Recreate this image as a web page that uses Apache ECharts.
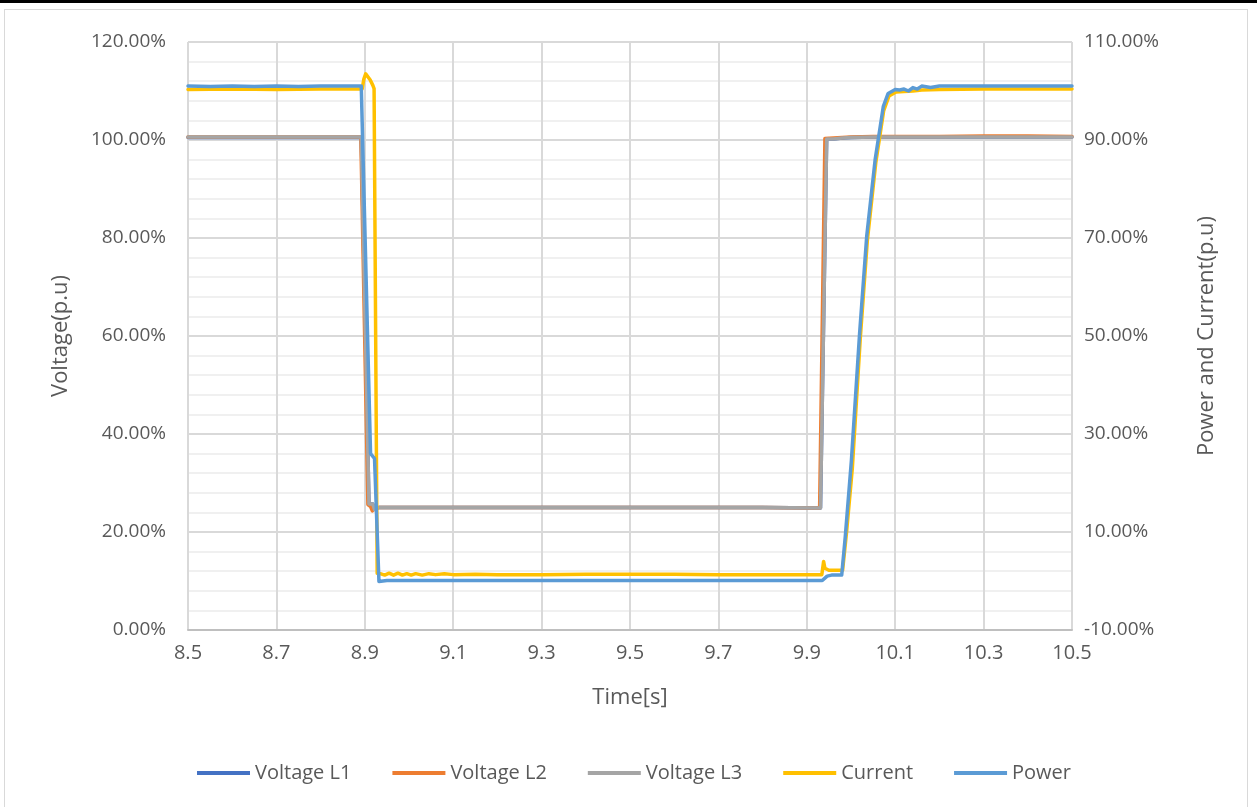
<!DOCTYPE html>
<html>
<head>
<meta charset="utf-8">
<script src="https://cdn.jsdelivr.net/npm/echarts@6/dist/echarts.min.js"></script>
<style>
html,body{margin:0;padding:0;background:#fff;}
#wrap{position:relative;width:1257px;height:807px;overflow:hidden;background:#fff;}
#chart{position:absolute;left:0;top:0;width:1257px;height:807px;}
#topbar{position:absolute;left:0;top:0;width:1257px;height:3px;background:#000;}
#frame{position:absolute;left:4px;top:9px;width:1244px;height:810px;border:1px solid #d9d9d9;box-sizing:border-box;pointer-events:none;}
</style>
</head>
<body>
<div id="wrap">
<div id="chart"></div>
<div id="frame"></div>
<div id="topbar"></div>
</div>
<script>
// ---- data (percent values) ----
const seriesNames = ['Voltage L1', 'Voltage L2', 'Voltage L3', 'Current', 'Power'];
const xTicks = ['8.5', '8.7', '8.9', '9.1', '9.3', '9.5', '9.7', '9.9', '10.1', '10.3', '10.5'];

const timeL13 = [8.5, 8.6, 8.7, 8.8, 8.892, 8.9095, 8.918, 8.922, 8.926, 8.932, 9.0, 9.2, 9.4, 9.6, 9.8, 9.931, 9.945, 9.96, 9.98, 10.0, 10.05, 10.1, 10.2, 10.3, 10.4, 10.5];
const voltL1 = [100.5, 100.5, 100.5, 100.5, 100.5, 25.7, 25.7, 24.6, 24.9, 25.0, 25.0, 25.0, 25.0, 25.0, 25.0, 24.9, 100.2, 100.2, 100.4, 100.5, 100.6, 100.6, 100.6, 100.6, 100.6, 100.6];
const voltL3 = [100.6, 100.6, 100.6, 100.6, 100.6, 25.7, 25.7, 24.6, 24.9, 25.0, 25.0, 25.0, 25.0, 25.0, 25.0, 24.9, 100.2, 100.2, 100.4, 100.5, 100.6, 100.6, 100.6, 100.6, 100.6, 100.6];

const timeL2 = [8.5, 8.6, 8.7, 8.8, 8.891, 8.907, 8.913, 8.917, 8.921, 8.928, 9.0, 9.2, 9.4, 9.6, 9.8, 9.929, 9.941, 9.96, 9.98, 10.0, 10.05, 10.1, 10.2, 10.3, 10.4, 10.5];
const voltL2 = [100.6, 100.6, 100.6, 100.6, 100.6, 25.6, 25.2, 24.3, 24.8, 25.0, 25.0, 25.0, 25.0, 25.0, 25.0, 24.9, 100.3, 100.4, 100.5, 100.6, 100.7, 100.7, 100.7, 100.8, 100.8, 100.7];

const timeCurrent = [8.5, 8.6, 8.7, 8.8, 8.894, 8.898, 8.902, 8.906, 8.912, 8.918, 8.921, 8.928, 8.935, 8.945, 8.955, 8.965, 8.975, 8.985, 8.995, 9.005, 9.015, 9.03, 9.045, 9.06, 9.08, 9.1, 9.15, 9.2, 9.3, 9.4, 9.5, 9.6, 9.7, 9.8, 9.9, 9.934, 9.938, 9.941, 9.945, 9.95, 9.97, 9.981, 9.99, 10.003, 10.021, 10.037, 10.056, 10.074, 10.086, 10.102, 10.12, 10.14, 10.16, 10.2, 10.3, 10.4, 10.5];
const current = [100.3, 100.4, 100.3, 100.4, 100.4, 102.5, 103.5, 103.2, 102.3, 101.2, 100.5, 1.6, 1.5, 1.2, 1.6, 1.2, 1.6, 1.2, 1.5, 1.2, 1.5, 1.2, 1.5, 1.3, 1.5, 1.3, 1.4, 1.3, 1.3, 1.4, 1.4, 1.4, 1.3, 1.3, 1.3, 1.3, 4.0, 2.6, 2.2, 2.2, 2.2, 2.2, 10.0, 23.0, 49.5, 69.5, 85.3, 96.0, 99.0, 99.8, 99.9, 100.0, 100.2, 100.3, 100.4, 100.4, 100.4];

const timePower = [8.5, 8.55, 8.6, 8.65, 8.7, 8.75, 8.8, 8.85, 8.892, 8.913, 8.922, 8.932, 8.95, 9.0, 9.2, 9.4, 9.6, 9.8, 9.9, 9.935, 9.939, 9.946, 9.956, 9.979, 9.987, 10.001, 10.0195, 10.0355, 10.0545, 10.073, 10.084, 10.1, 10.11, 10.12, 10.13, 10.14, 10.15, 10.16, 10.18, 10.2, 10.25, 10.3, 10.4, 10.5];
const power = [101.0, 100.9, 101.0, 100.9, 101.0, 100.9, 101.0, 101.0, 101.0, 26.0, 25.0, -0.1, 0.1, 0.1, 0.1, 0.1, 0.1, 0.1, 0.1, 0.1, -0.3, 1.0, 1.2, 1.2, 9.0, 24.7, 50.6, 70.3, 85.9, 96.8, 99.5, 100.3, 100.2, 100.4, 100.0, 100.7, 100.4, 101.0, 100.7, 101.0, 101.0, 101.0, 101.0, 101.0];

const colors = ['#4472C4', '#ED7D31', '#A5A5A5', '#FFC000', '#5B9BD5'];

function zip(t, v) { return t.map((x, i) => [x, v[i]]); }

const FONT = '"Open Sans", "Noto Sans", sans-serif';
const TXT = '#595959';

const chart = echarts.init(document.getElementById('chart'), null, { renderer: 'canvas' });

function mkSeries(i, data, yIdx) {
  return {
    name: seriesNames[i], type: 'line', yAxisIndex: yIdx, data: data,
    showSymbol: false, symbol: 'none',
    lineStyle: { width: 3.5, color: colors[i], cap: 'round', join: 'round' },
    itemStyle: { color: colors[i] },
    z: 2 + i
  };
}

chart.setOption({
  animation: false,
  textStyle: { fontFamily: FONT },
  grid: { left: 188, right: 185, top: 42, bottom: 177, containLabel: false },
  legend: {
    data: seriesNames,
    top: 763, left: 197, padding: 0,
    icon: 'rect', itemWidth: 53, itemHeight: 4, itemGap: 41,
    textStyle: { color: TXT, fontSize: 20, fontFamily: FONT, padding: [0, 0, 0, 0] }
  },
  xAxis: {
    type: 'value', min: 8.5, max: 10.5, interval: 0.2,
    name: 'Time[s]', nameLocation: 'middle', nameGap: 57,
    nameTextStyle: { color: TXT, fontSize: 22, fontFamily: FONT },
    axisLine: { show: true, lineStyle: { color: '#bfbfbf', width: 2 } },
    axisTick: { show: false },
    axisLabel: { color: TXT, fontSize: 20, margin: 13, fontFamily: FONT,
      formatter: (v) => { const i = Math.round((v - 8.5) / 0.2); return xTicks[i] !== undefined ? xTicks[i] : ''; } },
    splitLine: { show: true, lineStyle: { color: '#d9d9d9', width: 2 } }
  },
  yAxis: [
    {
      type: 'value', min: 0, max: 120, interval: 20, position: 'left',
      name: 'Voltage(p.u)', nameLocation: 'middle', nameGap: 116, nameRotate: 90,
      nameTextStyle: { color: TXT, fontSize: 22, fontFamily: FONT },
      axisLine: { show: false }, axisTick: { show: false },
      axisLabel: { color: TXT, fontSize: 19, margin: 22, fontFamily: FONT, formatter: (v) => v.toFixed(2) + '%' },
      splitLine: { show: true, lineStyle: { color: '#d9d9d9', width: 2 } },
      minorTick: { show: false, splitNumber: 5 },
      minorSplitLine: { show: true, lineStyle: { color: '#f0f0f0', width: 2 } }
    },
    {
      type: 'value', min: -10, max: 110, interval: 20, position: 'right',
      name: 'Power and Current(p.u)', nameLocation: 'middle', nameGap: 124, nameRotate: 90,
      nameTextStyle: { color: TXT, fontSize: 22, fontFamily: FONT },
      axisLine: { show: false }, axisTick: { show: false },
      axisLabel: { color: TXT, fontSize: 19, margin: 12, fontFamily: FONT, formatter: (v) => v.toFixed(2) + '%' },
      splitLine: { show: false }
    }
  ],
  series: [
    mkSeries(0, zip(timeL13, voltL1), 0),
    mkSeries(1, zip(timeL2, voltL2), 0),
    mkSeries(2, zip(timeL13, voltL3), 0),
    mkSeries(3, zip(timeCurrent, current), 1),
    mkSeries(4, zip(timePower, power), 1)
  ]
});
</script>
</body>
</html>
